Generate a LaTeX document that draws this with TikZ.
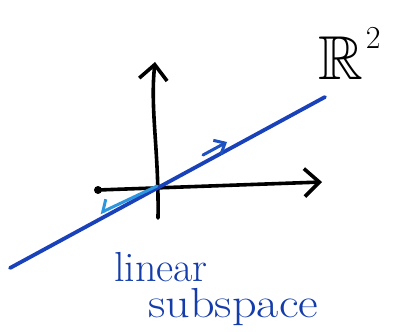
\documentclass[tikz,border=0pt]{standalone}
\usepackage{amssymb}
\usepackage{tikz}
\usetikzlibrary{arrows.meta,positioning}
\definecolor{lineblue}{RGB}{25,65,185}
\definecolor{lightblue}{RGB}{45,150,220}
\definecolor{textblue}{RGB}{20,60,170}

\begin{document}
\begin{tikzpicture}[x=1pt,y=-1pt,
    axis/.style={line width=3.6pt, line cap=round, -{Straight Barb[length=15pt,width=28pt,line width=3.6pt]}},
    subline/.style={line width=3.8pt, lineblue, line cap=round},
    vecmark/.style={line width=3pt, line cap=round},
    lbl/.style={inner sep=0pt, textblue, font=\fontsize{42}{44}\selectfont}]
\useasboundingbox (0,0) rectangle (395,331);
% axes
\coordinate (xstart) at (98,190);
\coordinate (xend) at (322,182);
\coordinate (ystart) at (158,218);
\coordinate (yend) at (155,62);
\fill (xstart) circle (4pt);
\draw[axis] (xstart) -- (xend);
\draw[axis] (ystart) .. controls (159,150) and (150,110) .. (yend);
% the subspace
\coordinate (lstart) at (10,268);
\coordinate (lend) at (325,97);
\draw[subline] (lstart) -- (lend);
\coordinate (origin) at (157,186);
\coordinate (vtip) at (100,213);
\draw[vecmark, lightblue, -{Straight Barb[harpoon,swap,length=8pt,width=20pt,line width=3pt]}] (origin) -- (vtip);
\coordinate (wbase) at (203,155);
\coordinate (wtip) at (227,142);
\draw[vecmark, lineblue!80!lightblue, -{Straight Barb[length=9pt,width=16pt,line width=3pt]}] (wbase) -- (wtip);
% labels
\node[inner sep=0pt, anchor=base west, font=\fontsize{62}{64}\selectfont] (space) at (318,80)
  {$\mathbb{R}$\hspace{3pt}\raisebox{0.5em}{\fontsize{32}{34}\selectfont 2}};
\node[lbl, anchor=base west] (linear) at (114,281) {linear};
\node[lbl, anchor=base west, xscale=1.15] (subspace) at (148,317) {subspace};
\end{tikzpicture}
\end{document}
